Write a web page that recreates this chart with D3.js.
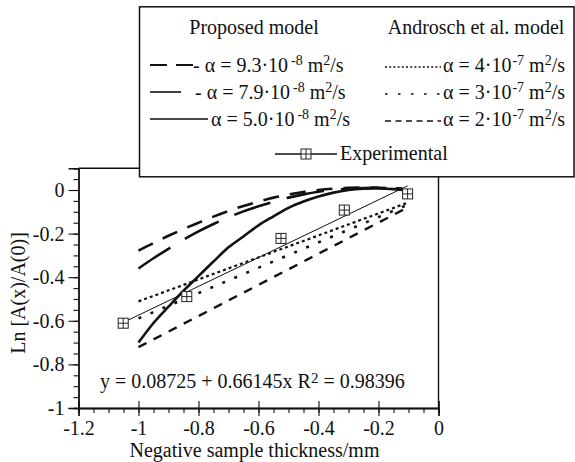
<!DOCTYPE html>
<html><head><meta charset="utf-8">
<script src="https://cdn.jsdelivr.net/npm/d3@7"></script>
<style>
body{margin:0;background:#fff}
svg{display:block}
svg text{font-family:"Liberation Serif","Tinos","Times New Roman","Nimbus Roman","DejaVu Serif",serif !important;fill:#111}
</style>
</head><body>
<svg id="chart" width="575" height="462" font-family="Liberation Serif, DejaVu Serif, serif"></svg>
<script>
// ---------------- data ----------------
const xProposed = [-1.0, -0.95, -0.9, -0.85, -0.8, -0.75, -0.7, -0.65, -0.6, -0.55, -0.5, -0.45, -0.4, -0.35, -0.3, -0.25, -0.2, -0.15, -0.12];
const alpha93 = [-0.278, -0.243, -0.21, -0.179, -0.15, -0.122, -0.096, -0.073, -0.053, -0.035, -0.021, -0.009, 0.0, 0.006, 0.01, 0.011, 0.01, 0.007, 0.005];
const alpha79 = [-0.36, -0.313, -0.27, -0.228, -0.19, -0.156, -0.125, -0.098, -0.075, -0.054, -0.035, -0.02, -0.008, 0.0, 0.006, 0.009, 0.01, 0.008, 0.006];
const alpha50 = [-0.70, -0.61, -0.535, -0.462, -0.395, -0.328, -0.263, -0.213, -0.162, -0.121, -0.082, -0.053, -0.03, -0.012, 0.0, 0.006, 0.007, 0.004, 0.0];

const xAndrosch = [-1.0, -0.1];
const androsch4 = [-0.511, -0.057];
const androsch3 = [-0.589, -0.066];
const androsch2 = [-0.721, -0.078];

const expX = [-1.051, -0.839, -0.525, -0.314, -0.103];
const expY = [-0.611, -0.489, -0.222, -0.092, -0.018];
const fitX = [-1.051, -0.103];
const fitY = [-0.608, 0.019];

const xTickValues = [-1.2, -1.0, -0.8, -0.6, -0.4, -0.2, 0];
const xTickLabels = ["-1.2", "-1", "-0.8", "-0.6", "-0.4", "-0.2", "0"];
const yTickValues = [-1.0, -0.8, -0.6, -0.4, -0.2, 0];
const yTickLabels = ["-1", "-0.8", "-0.6", "-0.4", "-0.2", "0"];

const legendProposed = ["9.3", "7.9", "5.0"];
const legendAndrosch = ["4", "3", "2"];

// ---------------- layout ----------------
const svg = d3.select("#chart");
const FS = 20;
const x = d3.scaleLinear().domain([-1.2, 0]).range([78.5, 438.5]);
const y = d3.scaleLinear().domain([-1, 0.1]).range([408, 168.2]);
const plotTop = y(0.1), plotBottom = y(-1), plotLeft = x(-1.2), plotRight = x(0);

svg.append("line").attr("x1", plotLeft).attr("x2", plotRight).attr("y1", plotTop).attr("y2", plotTop)
  .attr("stroke", "#111").attr("stroke-width", 1.4);
svg.append("line").attr("x1", plotRight).attr("x2", plotRight).attr("y1", plotTop).attr("y2", plotBottom)
  .attr("stroke", "#111").attr("stroke-width", 1.4);

const yMinor = d3.range(-1, 0.1001, 0.05).map(v => +v.toFixed(2));
const gyMinor = svg.append("g").attr("transform", `translate(${plotLeft},0)`)
  .call(d3.axisLeft(y).tickValues(yMinor).tickSize(5).tickFormat(""));
const gy = svg.append("g").attr("transform", `translate(${plotLeft},0)`)
  .call(d3.axisLeft(y).tickValues(yTickValues).tickSize(10).tickPadding(4)
    .tickFormat((d, i) => yTickLabels[i]));
const xMinor = d3.range(-1.2, 0.0001, 0.05).map(v => +v.toFixed(2));
const gxMinor = svg.append("g").attr("transform", `translate(0,${plotBottom})`)
  .call(d3.axisBottom(x).tickValues(xMinor).tickSize(5).tickFormat(""));
const gxIn = svg.append("g").attr("transform", `translate(0,${plotBottom})`)
  .call(d3.axisTop(x).tickValues(xTickValues).tickSize(7).tickFormat(""));
const gx = svg.append("g").attr("transform", `translate(0,${plotBottom})`)
  .call(d3.axisBottom(x).tickValues(xTickValues).tickSize(8).tickPadding(5)
    .tickFormat((d, i) => xTickLabels[i]));

[gyMinor, gy, gxMinor, gxIn, gx].forEach(g => {
  g.attr("font-family", null).attr("font-size", null);
  g.selectAll("path.domain").attr("stroke", "#111").attr("stroke-width", 1.4);
  g.selectAll(".tick line").attr("stroke", "#111").attr("stroke-width", 1.1);
  g.selectAll(".tick text").style("font-size", FS + "px").attr("fill", "#111");
});

svg.append("text").attr("x", x(-0.6) - 4).attr("y", 456.5).attr("text-anchor", "middle")
  .style("font-size", FS + "px").text("Negative sample thickness/mm");
svg.append("text").attr("transform", "translate(25,293) rotate(-90)").attr("text-anchor", "middle")
  .style("font-size", FS + "px").text("Ln [A(x)/A(0)]");

const eq = svg.append("text").attr("x", 100).attr("y", 388).style("font-size", FS + "px");
eq.append("tspan").text("y = 0.08725 + 0.66145x R");
eq.append("tspan").attr("dy", -5).style("font-size", "15px").text("2");
eq.append("tspan").attr("dy", 5).text(" = 0.98396");

// ---------------- series ----------------
const line = d3.line().x(d => x(d[0])).y(d => y(d[1]));
const curve = d3.line().x(d => x(d[0])).y(d => y(d[1])).curve(d3.curveCatmullRom);

const plotG = svg.append("g");
function addSeries(xs, ys, gen, dash, w) {
  plotG.append("path").datum(xs.map((v, i) => [v, ys[i]]))
    .attr("d", gen).attr("fill", "none").attr("stroke", "#111")
    .attr("stroke-width", w).attr("stroke-dasharray", dash).attr("stroke-linecap", "butt");
}
addSeries(xAndrosch, androsch2, line, "9,8", 2.4);
addSeries(xAndrosch, androsch3, line, "3,10", 2.6);
addSeries(xAndrosch, androsch4, line, "3,3", 2.2);
addSeries(fitX, fitY, line, null, 1);
addSeries(xProposed, alpha50, curve, null, 2.6);
addSeries(xProposed, alpha79, curve, "38,17", 2.6);
addSeries(xProposed, alpha93, curve, "16,11", 2.6);

function marker(g, cx, cy) {
  const s = 10;
  g.append("rect").attr("x", cx - s / 2).attr("y", cy - s / 2).attr("width", s).attr("height", s)
    .attr("fill", "#fff").attr("stroke", "#222").attr("stroke-width", 1);
  g.append("line").attr("x1", cx).attr("x2", cx).attr("y1", cy - s / 2).attr("y2", cy + s / 2).attr("stroke", "#222").attr("stroke-width", 1);
  g.append("line").attr("x1", cx - s / 2).attr("x2", cx + s / 2).attr("y1", cy).attr("y2", cy).attr("stroke", "#222").attr("stroke-width", 1);
}
expX.forEach((v, i) => marker(plotG, x(v), y(expY[i])));

// ---------------- legend ----------------
const lg = svg.append("g");
lg.append("rect").attr("x", 139.5).attr("y", 6.8).attr("width", 434.5).attr("height", 170)
  .attr("fill", "#fff").attr("stroke", "#111").attr("stroke-width", 1.5);
lg.append("text").attr("x", 254).attr("y", 34).attr("text-anchor", "middle").style("font-size", FS + "px").text("Proposed model");
lg.append("text").attr("x", 476).attr("y", 34).attr("text-anchor", "middle").style("font-size", FS + "px").text("Androsch et al. model");

function alphaText(xp, yp, prefix, mant, exp) {
  const t = lg.append("text").attr("x", xp).attr("y", yp).style("font-size", FS + "px");
  t.append("tspan").text(prefix + "α = " + mant + "·10");
  t.append("tspan").attr("dx", exp === "-8" ? 3 : 1).attr("dy", -7).style("font-size", "14px").text(exp);
  t.append("tspan").attr("dy", 7).text(" m");
  t.append("tspan").attr("dy", -7).style("font-size", "14px").text("2");
  t.append("tspan").attr("dy", 7).text("/s");
}
const rowY = [65, 92, 119];
const leftSamples = [
  {x2: 193, dash: "17,9", w: 2.2},
  {x2: 181, dash: null, w: 1.6},
  {x2: 208, dash: null, w: 1.6}
];
const leftTextX = [193, 195, 211];
legendProposed.forEach((m, i) => {
  lg.append("line").attr("x1", 150).attr("x2", leftSamples[i].x2).attr("y1", rowY[i]).attr("y2", rowY[i])
    .attr("stroke", "#111").attr("stroke-width", leftSamples[i].w).attr("stroke-dasharray", leftSamples[i].dash);
  alphaText(leftTextX[i], rowY[i] + 7, i < 2 ? "- " : "", m, "-8");
});
const rightDash = ["2,2.2", "2.5,10.5", "6,4.5"];
legendAndrosch.forEach((m, i) => {
  lg.append("line").attr("x1", 385).attr("x2", 441).attr("y1", rowY[i] + 2).attr("y2", rowY[i] + 2)
    .attr("stroke", "#111").attr("stroke-width", 1.6).attr("stroke-dasharray", rightDash[i]);
  alphaText(443, rowY[i] + 7, "", m, "-7");
});
lg.append("line").attr("x1", 275).attr("x2", 337).attr("y1", 154).attr("y2", 154).attr("stroke", "#111").attr("stroke-width", 1.3);
marker(lg, 306, 154);
lg.append("text").attr("x", 340).attr("y", 160).style("font-size", FS + "px").text("Experimental");
</script>
</body></html>
